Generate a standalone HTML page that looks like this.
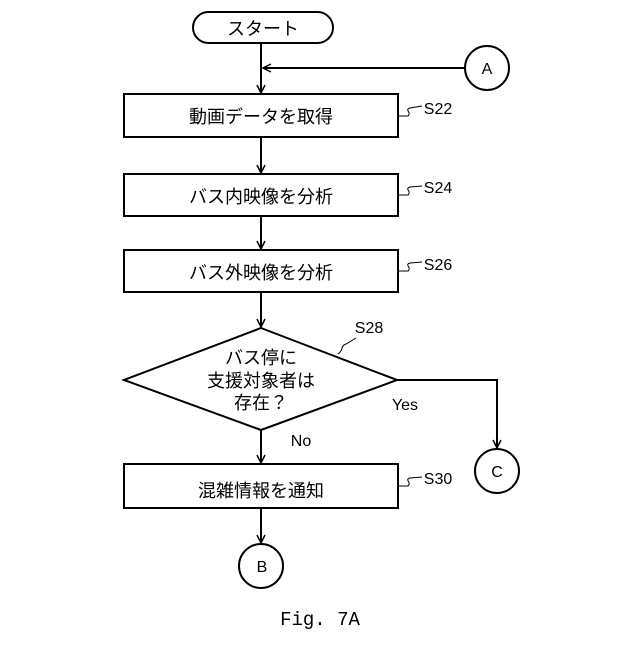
<!DOCTYPE html>
<html><head><meta charset="utf-8"><style>
body{margin:0;background:#fff}
svg text{font-family:"Liberation Sans","Noto Sans CJK JP",sans-serif;fill:#000}
</style></head><body>
<svg width="640" height="640" viewBox="0 0 640 640" xmlns="http://www.w3.org/2000/svg">
<defs><marker id="ar" markerWidth="10" markerHeight="10" refX="9" refY="5" orient="auto" markerUnits="userSpaceOnUse"><path d="M1,1 L9,5 L1,9" fill="none" stroke="#000" stroke-width="1.5"/></marker></defs>
<g fill="none" stroke="#000" stroke-width="2">
<rect x="193" y="12" width="140" height="31" rx="15.5"/>
<circle cx="487" cy="68" r="22"/>
<rect x="124" y="94" width="274" height="43"/>
<rect x="124" y="174" width="274" height="42"/>
<rect x="124" y="250" width="274" height="42"/>
<polygon points="261,328 397,380 261,430 124,380"/>
<rect x="124" y="464" width="274" height="44"/>
<circle cx="497" cy="471" r="22"/>
<circle cx="261" cy="566" r="22"/>
<line x1="261" y1="43" x2="261" y2="93" marker-end="url(#ar)"/>
<line x1="465" y1="68" x2="263" y2="68" marker-end="url(#ar)"/>
<line x1="261" y1="137" x2="261" y2="173" marker-end="url(#ar)"/>
<line x1="261" y1="216" x2="261" y2="249" marker-end="url(#ar)"/>
<line x1="261" y1="292" x2="261" y2="327" marker-end="url(#ar)"/>
<line x1="261" y1="430" x2="261" y2="463" marker-end="url(#ar)"/>
<line x1="261" y1="508" x2="261" y2="543" marker-end="url(#ar)"/>
<polyline points="397,380 497,380 497,448" marker-end="url(#ar)"/>
</g>
<g fill="none" stroke="#000" stroke-width="1">
<path d="M398,116 L408,116 C412,112 404,110 410,108 L422,106"/>
<path d="M398,195 L408,195 C412,191 404,189 410,187 L422,186"/>
<path d="M398,271 L408,271 C412,267 404,265 410,263 L422,262"/>
<path d="M338,354 C344,350 340,346 346,344 L356,338"/>
<path d="M398,486 L408,486 C412,482 404,480 410,478 L422,477"/>
</g>
<g font-size="18" text-anchor="middle">
<text x="263" y="35">スタート</text>
<text x="261" y="123">動画データを取得</text>
<text x="261" y="203">バス内映像を分析</text>
<text x="261" y="279">バス外映像を分析</text>
<text x="261" y="364">バス停に</text>
<text x="261" y="387">支援対象者は</text>
<text x="261" y="409">存在？</text>
<text x="261" y="497">混雑情報を通知</text>
</g>
<g font-size="16" text-anchor="middle">
<text x="487" y="74">A</text>
<text x="497" y="477">C</text>
<text x="262" y="572">B</text>
<text x="438" y="114">S22</text>
<text x="438" y="193">S24</text>
<text x="438" y="270">S26</text>
<text x="369" y="333">S28</text>
<text x="438" y="484">S30</text>
<text x="405" y="410">Yes</text>
<text x="301" y="446">No</text>
</g>
<text x="320" y="625" font-size="19" text-anchor="middle" style="font-family:'Liberation Mono',monospace">Fig. 7A</text>
</svg>
</body></html>
